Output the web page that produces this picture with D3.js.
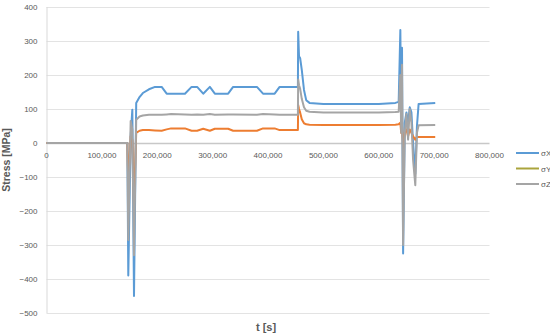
<!DOCTYPE html>
<html>
<head>
  <meta charset="utf-8">
  <script src="https://d3js.org/d3.v7.min.js"></script>
  <style>
    body { margin: 0; background: #fff; }
    text { font-family: "Liberation Sans", Arial, sans-serif; }
  </style>
</head>
<body>
  <div id="my_dataviz"></div>
  <script>

    // time points [s]
    var timeValues = [0, 146000, 147700, 152000, 155000, 158000, 162000, 168000, 174000, 185000,
      196000, 208000, 217000, 225000, 250000, 262000, 272000, 283000, 295000, 304000,
      328000, 337000, 380000, 391000, 412000, 421000, 454000, 454500, 456000, 458000,
      461000, 465000, 469000, 475000, 500000, 600000, 630000, 636000, 639000, 640500,
      642000, 644000, 647000, 650000, 653000, 656000, 659000, 662000, 666000, 669000,
      672000, 702000];

    var sigmaX = [0, 0, -390, 20, 98, -450, 118, 135, 147, 158,
      165, 165, 145, 145, 145, 165, 165, 145, 165, 145,
      145, 165, 165, 145, 145, 165, 165, 327, 255, 250,
      215, 156, 126, 118, 115, 115, 118, 121, 332, 60,
      280, -325, 60, 90, 60, 105, 90, 0, -90, 50,
      115, 118];

    var sigmaY = [0, 0, -120, 20, 10, -180, 30, 36, 38, 38,
      37, 36, 40, 43, 43, 36, 36, 42, 36, 42,
      42, 36, 36, 43, 43, 38, 38, 112, 100, 90,
      70, 58, 55, 54, 53, 53, 54, 55, 60, 30,
      50, -10, 30, 40, 20, 40, 30, 20, 10, 18,
      18, 18];

    var sigmaZ = [0, 0, -285, 65, 40, -330, 68, 78, 81, 83,
      83, 83, 84, 85, 84, 83, 84, 83, 85, 83,
      84, 84, 83, 85, 84, 83, 83, 187, 170, 160,
      130, 105, 95, 92, 90, 90, 91, 92, 200, 30,
      230, -300, 30, 85, 10, 100, 60, -50, -124, 30,
      52, 53];

    var seriesNames = ["σX", "σY", "σZ"];
    var seriesData = [sigmaX, sigmaY, sigmaZ];
    var lineColors = ["#5b9bd5", "#ed7d31", "#a5a5a5"];
    var legendColors = ["#5b9bd5", "#aaa43c", "#a5a5a5"];

    var xTicks = [0, 100000, 200000, 300000, 400000, 500000, 600000, 700000, 800000];
    var yTicks = [-500, -400, -300, -200, -100, 0, 100, 200, 300, 400];

    var margin = { top: 7, right: 60.5, bottom: 22, left: 46.5 },
      width = 550 - margin.left - margin.right,
      height = 335 - margin.top - margin.bottom;

    var svgRoot = d3.select("#my_dataviz")
      .append("svg")
      .attr("width", 550)
      .attr("height", 335);

    var svg = svgRoot.append("g")
      .attr("transform", "translate(" + margin.left + "," + margin.top + ")");

    var x = d3.scaleLinear().domain([0, 800000]).range([0, width]);
    var y = d3.scaleLinear().domain([-500, 400]).range([height, 0]);

    // horizontal gridlines
    svg.selectAll("grid")
      .data(yTicks)
      .enter()
      .append("line")
      .attr("x1", 0)
      .attr("x2", width)
      .attr("y1", function (d) { return y(d) + 0.5 })
      .attr("y2", function (d) { return y(d) + 0.5 })
      .attr("stroke", function (d) { return d === 0 ? "#c8c8c8" : "#e3e3e3" })
      .attr("stroke-width", function (d) { return d === 0 ? 1.5 : 1 });

    // vertical axis line
    svg.append("line")
      .attr("x1", 0.5).attr("x2", 0.5)
      .attr("y1", 0).attr("y2", height)
      .attr("stroke", "#d9d9d9");

    // y tick labels
    svg.selectAll("ylab")
      .data(yTicks)
      .enter()
      .append("text")
      .attr("x", -9)
      .attr("y", function (d) { return y(d) + 3 })
      .attr("text-anchor", "end")
      .style("font-size", "8px")
      .style("fill", "#595959")
      .text(function (d) { return d < 0 ? "\u2212" + Math.abs(d) : d });

    // x tick labels (next to the zero line)
    svg.selectAll("xlab")
      .data(xTicks)
      .enter()
      .append("text")
      .attr("x", function (d) { return x(d) })
      .attr("y", y(0) + 15)
      .attr("text-anchor", "middle")
      .style("font-size", "8px")
      .style("fill", "#595959")
      .text(function (d) { return d3.format(",")(d) });

    // axis titles
    svg.append("text")
      .attr("text-anchor", "middle")
      .attr("x", width / 2 - 2)
      .attr("y", height + 18)
      .style("font-size", "11px")
      .style("font-weight", "bold")
      .style("fill", "#595959")
      .text("t [s]");

    svg.append("text")
      .attr("text-anchor", "middle")
      .attr("transform", "translate(" + (-37) + "," + (height / 2) + ") rotate(-90)")
      .style("font-size", "10.5px")
      .style("font-weight", "bold")
      .style("fill", "#595959")
      .text("Stress [MPa]");

    // lines
    var line = d3.line()
      .x(function (d, i) { return x(timeValues[i]) })
      .y(function (d) { return y(d) });

    svg.selectAll("myLines")
      .data(seriesData)
      .enter()
      .append("path")
      .attr("d", function (d) { return line(d) })
      .attr("stroke", function (d, i) { return lineColors[i] })
      .style("stroke-width", 2)
      .style("stroke-linejoin", "round")
      .style("fill", "none");

    // legend
    var legend = svgRoot.selectAll("legend")
      .data(seriesNames)
      .enter()
      .append("g")
      .attr("transform", function (d, i) { return "translate(516," + (153 + i * 15.5) + ")" });

    legend.append("line")
      .attr("x1", 0).attr("x2", 23)
      .attr("y1", 0).attr("y2", 0)
      .attr("stroke", function (d, i) { return legendColors[i] })
      .attr("stroke-width", 2);

    legend.append("text")
      .attr("x", 25)
      .attr("y", 3)
      .style("font-size", "8px")
      .style("fill", "#595959")
      .text(function (d) { return d });

  </script>
</body>
</html>
